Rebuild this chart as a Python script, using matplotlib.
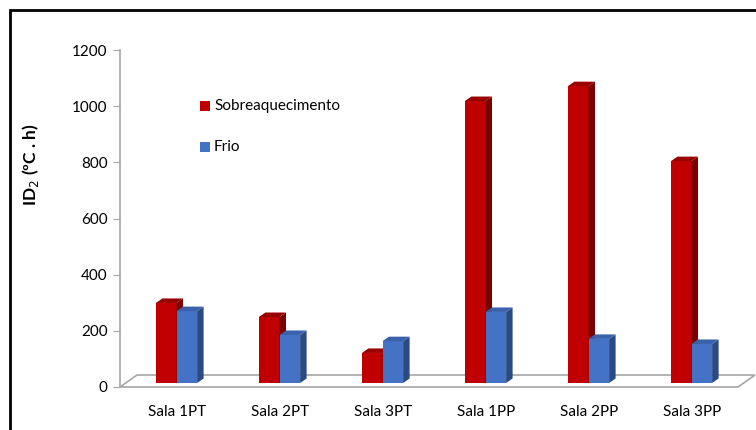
import numpy as np
import matplotlib.pyplot as plt
from matplotlib.patches import Polygon, Rectangle

plt.rcParams['font.family'] = ['Lato', 'DejaVu Sans']

categories = ['Sala 1PT', 'Sala 2PT', 'Sala 3PT', 'Sala 1PP', 'Sala 2PP', 'Sala 3PP']
sobreaquecimento = [285, 235, 107, 1004, 1057, 790]
frio = [256, 171, 149, 253, 157, 139]
y_ticks = [0, 200, 400, 600, 800, 1000, 1200]

W, H = 756, 430
fig = plt.figure(figsize=(W / 100, H / 100), dpi=100)

# axes placed in pixels (left, right, y of zero, y of 1200)
x0, x1, yb, yt = 120, 738, 387, 50
ax = fig.add_axes([x0 / W, (H - yb) / H, (x1 - x0) / W, (yb - yt) / H])
ax.set_xlim(-0.5, len(categories) - 0.5)
ax.set_ylim(0, 1200)

# pixel -> data conversion factors
px_x = (len(categories)) / (x1 - x0)
px_y = 1200 / (yb - yt)


def off(dx, dy):
    return dx * px_x, dy * px_y


# floor
fdx, fdy = off(17, 12)
floor = Polygon([(-0.5, 0), (5.5, 0), (5.5 + fdx, fdy), (-0.5 + fdx, fdy)],
                closed=True, facecolor='white', edgecolor='#a6a6a6', lw=1.2,
                clip_on=False, zorder=1)
ax.add_patch(floor)

bdx, bdy = off(5, 4)
sdx, sdy = off(6.5, 4.5)
bw = 0.2


def bar3d(xl, val, front, side, top):
    xb, yb0 = xl + bdx, bdy
    yt0 = yb0 + val
    ax.add_patch(Polygon([(xb, yb0), (xb + bw, yb0), (xb + bw, yt0), (xb, yt0)],
                         facecolor=front, edgecolor='none', clip_on=False, zorder=3))
    ax.add_patch(Polygon([(xb + bw, yb0), (xb + bw + sdx, yb0 + sdy),
                          (xb + bw + sdx, yt0 + sdy), (xb + bw, yt0)],
                         facecolor=side, edgecolor='none', clip_on=False, zorder=3))
    ax.add_patch(Polygon([(xb, yt0), (xb + bw, yt0), (xb + bw + sdx, yt0 + sdy),
                          (xb + sdx, yt0 + sdy)],
                         facecolor=top, edgecolor='none', clip_on=False, zorder=3))


x = np.arange(len(categories))
for i in range(len(categories)):
    bar3d(x[i] - bw, sobreaquecimento[i], '#c00000', '#7a0000', '#990000')
    bar3d(x[i], frio[i], '#4472c4', '#2c4a82', '#3a62aa')

for s in ['top', 'right', 'bottom']:
    ax.spines[s].set_visible(False)
ax.spines['left'].set_color('#a6a6a6')
ax.spines['left'].set_linewidth(1.2)
ax.set_yticks(y_ticks)
ax.tick_params(axis='y', length=5, color='#a6a6a6', labelsize=11, pad=4)
ax.set_xticks(x + 0.05)
ax.set_xticklabels(categories, fontsize=11)
ax.tick_params(axis='x', length=0, pad=13)

ax.set_ylabel('ID$_2$ (ºC . h)', fontsize=12.5, fontweight='bold')
ax.yaxis.set_label_coords(-0.128, 0.66)

# legend
lx = 0.277
sq = off(10, 10)
ax.add_patch(Rectangle((lx, 1000 - sq[1] / 2), sq[0], sq[1], facecolor='#c00000',
                       clip_on=False))
ax.text(lx + sq[0] + 4 * px_x, 1000, 'Sobreaquecimento', fontsize=11, va='center')
ax.add_patch(Rectangle((lx, 855 - sq[1] / 2), sq[0], sq[1], facecolor='#4472c4',
                       clip_on=False))
ax.text(lx + sq[0] + 4 * px_x, 855, 'Frio', fontsize=11, va='center')

# chart border
fig.add_artist(Rectangle((10 / W, -0.1), 1.2, 1 - 10 / H + 0.1, transform=fig.transFigure,
                         fill=False, edgecolor='black', lw=2))

fig.savefig('out.png', dpi=100)
